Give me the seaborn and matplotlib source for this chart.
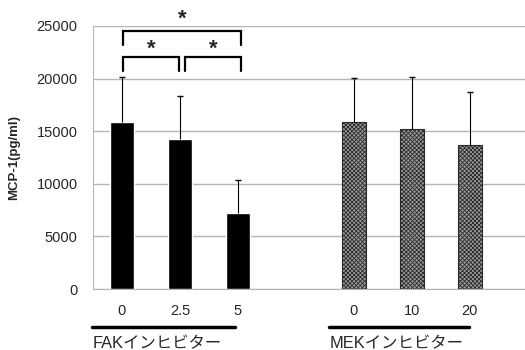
import pandas as pd
import seaborn as sns
import matplotlib.pyplot as plt

# Values
groups = ["FAK", "FAK", "FAK", "MEK", "MEK", "MEK"]
doses = ["0", "2.5", "5", "0", "10", "20"]
positions = [0, 1, 2, 4, 5, 6]
means = [15900, 14250, 7250, 15850, 15250, 13700]
errs = [4200, 4100, 3100, 4200, 4900, 5000]
group_labels = ["FAKインヒビター", "MEKインヒビター"]

df = pd.DataFrame({"pos": positions, "value": means, "group": groups})
tops = [m + e for m, e in zip(means, errs)]

sns.set_style("white")
plt.rcParams["font.family"] = ["Liberation Sans", "Noto Sans CJK JP", "DejaVu Sans"]
plt.rcParams["hatch.color"] = "#2a2a2a"
plt.rcParams["hatch.linewidth"] = 0.6

fig = plt.figure(figsize=(5.25, 3.5), dpi=100)
ax = fig.add_axes([0.177, 0.174, 0.823, 0.752])

sns.barplot(data=df, x="pos", y="value", hue="group", native_scale=True,
            palette={"FAK": "black", "MEK": "#9c9c9c"}, width=0.41,
            dodge=False, errorbar=None, legend=False, ax=ax, zorder=3)

for p in ax.patches:
    if p.get_facecolor()[0] > 0.3:
        p.set_hatch("xxxxxxxx")
        p.set_edgecolor("#2a2a2a")
        p.set_linewidth(0.8)

# upper-only error bars with a small cap
ax.errorbar(positions, means, yerr=[[0] * 6, errs], fmt="none",
            ecolor="black", elinewidth=0.8, capsize=0, zorder=4)
ax.plot(positions, tops, "_", color="black", ms=4, mew=1, zorder=4)

ax.set_xlim(-0.5, 6.95)
ax.set_ylim(0, 25000)
ax.set_yticks(range(0, 25001, 5000))
ax.yaxis.grid(True, color="#b5b5b5", linewidth=1)
ax.set_axisbelow(True)
ax.set_xticks(positions)
ax.set_xticklabels(doses, fontsize=10.5)
ax.tick_params(axis="x", length=0, pad=11)
ax.tick_params(axis="y", length=0, pad=11, labelsize=10.5)
ax.set_xlabel("")
ax.set_ylabel("MCP-1(pg/ml)", fontsize=9.5, fontweight="bold", labelpad=12)
for s in ["top", "right"]:
    ax.spines[s].set_visible(False)
ax.spines["left"].set_color("#b5b5b5")
ax.spines["bottom"].set_color("#b5b5b5")

# significance brackets
def bracket(x0, x1, y, h, dy):
    ax.plot([x0, x0, x1, x1], [y - h, y, y, y - h], color="black", lw=1.6,
            clip_on=False, solid_joinstyle="miter")
    ax.text((x0 + x1) / 2, y + dy, "*", ha="center", va="center",
            fontsize=16, fontweight="bold", clip_on=False)

bracket(0.02, 0.98, 22050, 1300, 700)
bracket(1.08, 2.06, 22050, 1300, 700)
bracket(0.02, 2.06, 24500, 1350, 1100)

# group underlines and labels
ax.plot([-0.52, 1.95], [-3600, -3600], color="black", lw=2.5, clip_on=False)
ax.plot([3.57, 5.98], [-3600, -3600], color="black", lw=2.5, clip_on=False)
ax.text(-0.5, -4500, group_labels[0], ha="left", va="top", fontsize=11.8)
ax.text(3.58, -4500, group_labels[1], ha="left", va="top", fontsize=11.8)

fig.savefig("out.png", dpi=100)
